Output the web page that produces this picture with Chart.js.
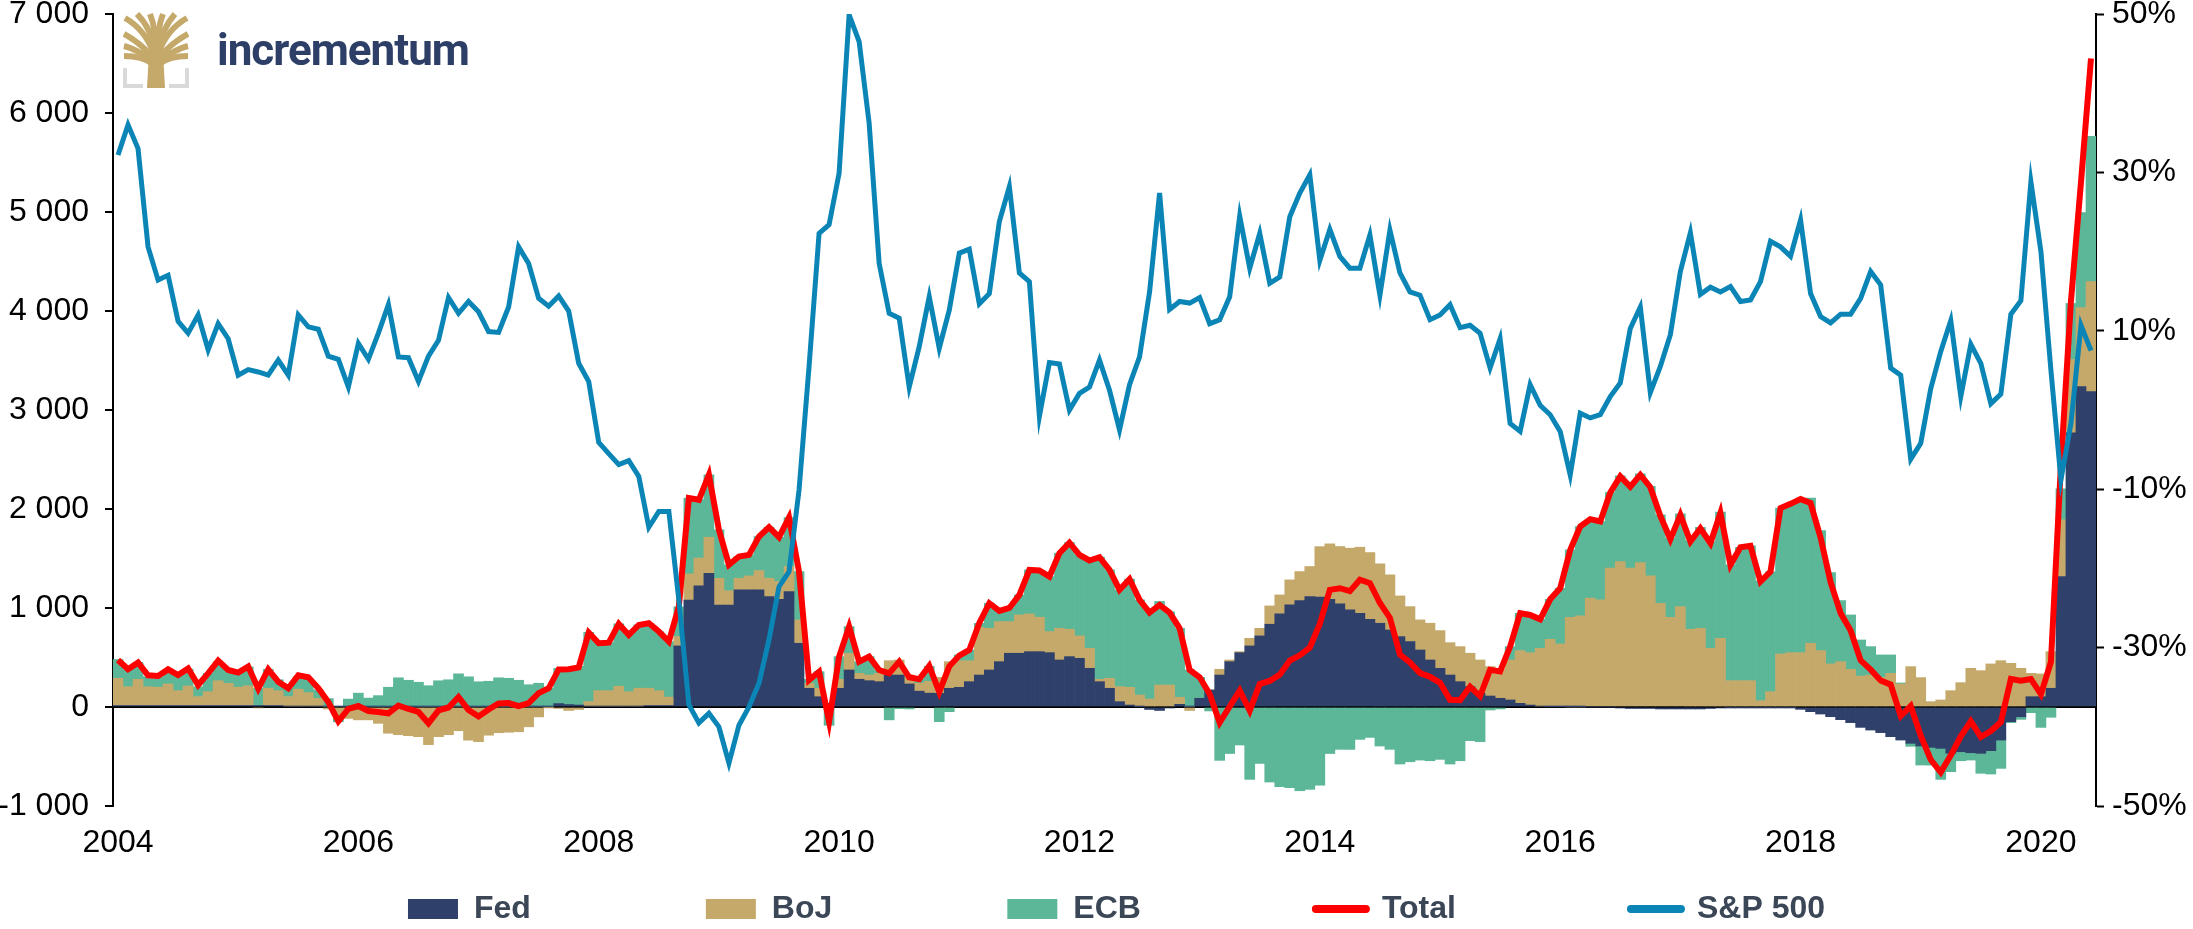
<!DOCTYPE html>
<html lang="en">
<head>
<meta charset="UTF-8">
<title>Central bank balance sheet changes vs S&amp;P 500</title>
<script src="https://cdn.jsdelivr.net/npm/chart.js"></script>
<style>
  body { margin: 0; background: #fff; }
  .wrap { position: relative; width: 2193px; height: 929px; }
  .logo-icon { position: absolute; left: 123px; top: 12px; }
  .logo-text {
    position: absolute; left: 217px; top: 28px;
    font-family: Roboto, "Liberation Sans", Arial, sans-serif;
    font-weight: 700; font-size: 44px; line-height: 44px;
    letter-spacing: -1px; color: #2e3f67;
  }
</style>
</head>
<body>
<div class="wrap">
  <canvas id="chart" width="2193" height="929"></canvas>
  <svg class="logo-icon" width="66" height="76" viewBox="0 0 66 76">
    <g stroke="#c4a96b" stroke-width="6" fill="none" stroke-linecap="butt">
      <path d="M30 46 C22 36 12 28 1 22"/>
      <path d="M30 52 C22 46 12 44 1 44"/>
      <path d="M30 49 C20 42 10 36 1 34"/>
      <path d="M31 42 C26 28 16 14 2 6"/>
      <path d="M32 40 C30 26 24 12 14 2"/>
      <path d="M33 40 C33 26 31 12 27 2"/>
      <path d="M33 40 C34 26 36 12 40 2"/>
      <path d="M34 40 C37 26 43 12 52 2"/>
      <path d="M35 42 C40 28 50 14 64 6"/>
      <path d="M36 46 C44 36 54 28 65 22"/>
      <path d="M36 49 C46 42 56 36 65 34"/>
      <path d="M36 52 C44 46 54 44 65 44"/>
    </g>
    <path d="M26 40 L40 40 L42 76 L24 76 Z" fill="#c4a96b"/>
    <g stroke="#d9d9d9" stroke-width="4" fill="none">
      <path d="M2 56 V74 H20"/>
      <path d="M64 56 V74 H46"/>
    </g>
  </svg>
  <div class="logo-text">incrementum</div>
</div>
<script>
// monthly data, Jan 2004 - Jun 2020, change in balance sheets (bn USD) and S&P 500 yoy (%)
const firstYear = 2004;
const monthCount = 198;
const months = Array.from({ length: monthCount }, (_, i) =>
  (firstYear + Math.floor(i / 12)) + '-' + String(i % 12 + 1).padStart(2, '0'));
const yearTicks = ['2004', '2006', '2008', '2010', '2012', '2014', '2016', '2018', '2020'];

const fed = [
  15, 15, 15, 15, 15, 15, 15, 15, 15, 15, 15, 15,
  15, 15, 15, 15, 15, 10, 10, 10, 10, 5, 5, 5,
  5, 5, 5, 5, 5, 5, 5, 5, 5, 5, 5, 5,
  5, 5, 5, 5, 5, 5, 5, 5, 35, 25, 20, 10,
  10, 10, 10, 10, 10, 15, 15, 15, 617, 1080, 1225, 1350,
  1030, 1030, 1183, 1183, 1183, 1115, 1088, 1166, 644, 189, 104, 37,
  189, 374, 280, 266, 256, 323, 323, 233, 160, 140, 138, 189,
  199, 256, 323, 374, 458, 543, 543, 559, 559, 549, 475, 509,
  492, 391, 256, 189, 54, 20, 3, -25, -35, -10, 27, 5,
  88, 172, 323, 458, 549, 617, 718, 836, 940, 1031, 1075, 1115,
  1110, 1088, 1041, 981, 947, 886, 846, 778, 711, 661, 576, 475,
  391, 323, 256, 206, 138, 111, 88, 71, 37, 20, 10, 3,
  3, 2, 2, 0, 0, 0, -10, -15, -15, -15, -20, -20,
  -20, -20, -20, -15, -10, -5, -5, -5, -5, -5, -5, -5,
  -24, -47, -71, -98, -128, -158, -206, -233, -259, -300, -334, -367,
  -394, -408, -418, -468, -452, -462, -468, -441, -334, -148, -98, 104,
  104, 189, 1318, 2770, 3236, 3185
];
const boj = [
  275, 190, 265, 190, 185, 218, 150, 197, 90, 140, 250, 225,
  185, 200, -10, 175, 150, 95, 170, 135, 78, -20, -120, -115,
  -130, -130, -165, -265, -280, -290, -300, -380, -300, -280, -240, -335,
  -350, -285, -260, -255, -250, -200, -100, -5, -15, -35, -25, 45,
  155, 155, 200, 145, 180, 175, 150, 85, 95, 265, 280, 365,
  270, 145, 118, 141, 195, 186, 179, 253, 236, 50, 85, 0,
  90, 169, 60, 57, 84, 145, 152, 90, 80, 120, 162, 269,
  269, 212, 482, 421, 405, 320, 387, 381, 348, 213, 320, 276,
  226, 202, 24, 101, 152, 179, 118, 80, 222, 222, 71, -35,
  0, 0, 58, 17, 10, 77, 77, 185, 192, 253, 293, 304,
  510, 560, 580, 623, 667, 674, 600, 557, 411, 353, 304, 371,
  381, 327, 354, 337, 337, 297, 293, 404, 533, 529, 583, 681,
  634, 905, 918, 1099, 1082, 1402, 1469, 1402, 1459, 1324, 1048, 907,
  1014, 785, 795, 593, 694, 266, 266, 266, 64, 155, 536, 549,
  549, 644, 570, 435, 458, 381, 313, 323, 300, 340, 233, 408,
  297, 54, 71, 165, 246, 391, 367, 435, 468, 441, 391, 236,
  230, 370, 573, 740, 798, 1112
];
const ecb = [
  190, 170, 170, 100, 100, 140, 160, 170, 100, 185, 190, 135,
  140, 190, 175, 190, 110, 85, 130, 135, 85, 80, -30, 75,
  135, 85, 110, 195, 290, 265, 245, 210, 260, 270, 330, 300,
  250, 255, 290, 285, 265, 220, 235, 185, 355, 365, 390, 700,
  480, 485, 630, 575, 640, 655, 595, 560, 300, 765, 590, 630,
  490, 260, 220, 213, 344, 515, 448, 495, 488, 40, 168, -185,
  230, 269, 118, 186, 34, -130, -17, -20, 40, 150, -148, -47,
  58, 108, 40, 253, 110, 140, 202, 445, 475, 556, 759, 876,
  819, 893, 1235, 1095, 977, 1092, 961, 895, 844, 740, 697, 370,
  212, -40, -539, -470, -384, -731, -570, -758, -805, -815, -846, -832,
  -790, -470, -428, -428, -327, -307, -394, -428, -576, -553, -536, -543,
  -529, -576, -543, -340, -350, -30, -20, 135, 377, 381, 293, 404,
  563, 680, 903, 798, 792, 765, 866, 832, 897, 904, 893, 798,
  937, 897, 1021, 1078, 1276, 1170, 1348, 1362, 1210, 1210, 1473, 1503,
  1551, 1466, 1213, 923, 617, 549, 364, 287, 226, 186, 10, -30,
  -192, -179, -313, -185, -91, -74, -202, -236, -286, -10, -27, -57,
  -206, -104, 313, 566, 961, 1467
];
const total = [
  475, 381, 448, 320, 313, 380, 323, 390, 222, 340, 468, 374,
  347, 408, 185, 380, 256, 189, 320, 300, 190, 50, -145, -20,
  10, -40, -50, -65, 15, -20, -50, -165, -35, -5, 100, -30,
  -95, -25, 35, 40, 10, 40, 140, 189, 380, 381, 400, 752,
  644, 650, 839, 728, 829, 846, 762, 661, 1014, 2110, 2093, 2346,
  1789, 1436, 1520, 1537, 1722, 1816, 1715, 1914, 1368, 273, 357, -148,
  509, 812, 458, 509, 374, 340, 458, 300, 280, 415, 152, 411,
  520, 576, 850, 1048, 970, 1000, 1132, 1385, 1380, 1318, 1554, 1660,
  1537, 1480, 1513, 1385, 1183, 1291, 1082, 954, 1031, 954, 795, 374,
  300, 132, -158, 5, 165, -37, 233, 263, 327, 469, 522, 600,
  840, 1183, 1200, 1170, 1285, 1250, 1050, 900, 530, 450, 342, 305,
  245, 72, 68, 204, 110, 376, 360, 610, 947, 930, 886, 1088,
  1200, 1587, 1823, 1897, 1874, 2167, 2330, 2225, 2345, 2220, 1930, 1695,
  1940, 1670, 1805, 1655, 1960, 1436, 1614, 1628, 1267, 1368, 2009, 2052,
  2100, 2060, 1710, 1260, 947, 772, 471, 377, 267, 226, -91, 10,
  -289, -533, -660, -488, -297, -145, -303, -242, -152, 283, 266, 283,
  128, 455, 2450, 4100, 5300, 6550
];
const spx = [
  32.2, 36.0, 33.0, 20.6, 16.4, 17.0, 11.2, 9.7, 12.0, 7.6, 10.9, 9.0,
  4.4, 5.1, 4.8, 4.4, 6.3, 4.4, 12.0, 10.5, 10.2, 6.8, 6.4, 2.9,
  8.4, 6.4, 9.7, 13.3, 6.7, 6.6, 3.6, 6.8, 8.8, 14.2, 12.2, 13.7,
  12.4, 9.9, 9.8, 13.0, 20.6, 18.5, 14.1, 13.1, 14.4, 12.5, 5.9, 3.6,
  -4.1, -5.5, -6.9, -6.4, -8.4, -14.8, -12.8, -12.8, -24.0, -37.2, -39.5, -38.3,
  -40.0, -44.6, -39.8, -37.5, -34.5, -29.0, -22.3, -20.4, -10.1, 5.5, 22.3, 23.4,
  29.9, 49.9, 46.5, 36.2, 18.5, 12.2, 11.6, 2.9, 8.0, 14.3, 7.8, 12.6,
  19.8, 20.3, 13.4, 14.7, 23.8, 28.2, 17.3, 16.2, -0.8, 6.0, 5.8, 0.0,
  2.1, 2.9, 6.3, 2.5, -2.5, 3.2, 6.7, 14.9, 27.4, 12.7, 13.7, 13.5,
  14.2, 10.9, 11.4, 14.3, 24.5, 17.9, 22.3, 16.0, 16.8, 24.4, 27.4, 29.7,
  18.9, 22.8, 19.4, 17.9, 17.9, 22.1, 14.5, 22.7, 17.3, 14.9, 14.5, 11.4,
  12.0, 13.3, 10.4, 10.7, 9.7, 5.3, 9.0, -1.7, -2.7, 3.2, 0.6, -0.6,
  -2.7, -8.2, -0.4, -1.0, -0.6, 1.7, 3.4, 10.3, 13.0, 2.2, 5.5, 9.5,
  17.5, 22.4, 14.6, 15.5, 14.9, 15.6, 13.7, 13.9, 16.2, 21.3, 20.6, 19.4,
  24.0, 14.7, 11.8, 11.0, 12.1, 12.1, 14.1, 17.5, 15.8, 5.3, 4.4, -6.2,
  -4.2, 2.7, 7.4, 11.3, 1.7, 8.3, 5.9, 0.8, 2.0, 12.1, 13.8, 28.8,
  20.0, 5.0, -8.8, -1.7, 10.7, 7.5
];

const axisFont = { family: '"Liberation Sans Narrow", "Arial Narrow", "Liberation Sans", Arial, sans-serif', size: 32 };

function spaced(v) {
  return String(v).replace(/\B(?=(\d{3})+(?!\d))/g, ' ');
}

// y axes: fixed widths and no extra room for the half label at the ends
function fixY(width) {
  return s => {
    s.width = width;
    s.paddingTop = 0;
    s.paddingBottom = 0;
  };
}

// legend gaps are wide, so push the legend row down into place after layout
const legendPlace = {
  id: 'legendPlace',
  afterLayout(chart) {
    const lg = chart.legend;
    const pad = lg.options.labels.padding;
    lg.top = 893 - pad;
    lg.left += 20;
    lg.right += 20;
  }
};

const ctx = document.getElementById('chart').getContext('2d');
new Chart(ctx, {
  data: {
    labels: months,
    datasets: [
      { type: 'bar', label: 'Fed', data: fed, backgroundColor: '#2f416b', stack: 'cb', order: 2,
        barPercentage: 1, categoryPercentage: 1, yAxisID: 'y' },
      { type: 'bar', label: 'BoJ', data: boj, backgroundColor: '#c4a96b', stack: 'cb', order: 2,
        barPercentage: 1, categoryPercentage: 1, yAxisID: 'y' },
      { type: 'bar', label: 'ECB', data: ecb, backgroundColor: '#5bb797', stack: 'cb', order: 2,
        barPercentage: 1, categoryPercentage: 1, yAxisID: 'y' },
      { type: 'line', label: 'Total', data: total, borderColor: '#ff0000', backgroundColor: '#ff0000',
        borderWidth: 6, pointRadius: 0, tension: 0, stack: 'total', order: 1, yAxisID: 'y' },
      { type: 'line', label: 'S&P 500', data: spx, borderColor: '#0a85b6', backgroundColor: '#0a85b6',
        borderWidth: 5, pointRadius: 0, tension: 0, order: 0, yAxisID: 'y1' }
    ]
  },
  options: {
    responsive: false,
    animation: false,
    layout: { padding: { top: 14, left: 0, right: 0, bottom: 0 } },
    scales: {
      x: {
        stacked: true,
        grid: { display: false, drawTicks: false },
        border: { display: false },
        ticks: {
          autoSkip: false, maxRotation: 0, padding: 18, color: '#000', font: axisFont,
          callback: (v, i) => (i % 24 === 0 ? yearTicks[i / 24] : null)
        },
        afterFit: s => { s.height = 73; }
      },
      y: {
        stacked: true,
        position: 'left',
        min: -1000, max: 7000,
        ticks: { stepSize: 1000, color: '#000', font: axisFont, padding: 16, callback: v => spaced(v) },
        grid: {
          color: c => (c.tick && c.tick.value === 0 ? '#000' : 'rgba(0,0,0,0)'),
          lineWidth: 2, tickColor: '#000', tickLength: 8, tickWidth: 2
        },
        border: { color: '#000', width: 2 },
        afterFit: fixY(113)
      },
      y1: {
        position: 'right',
        min: -50, max: 50,
        ticks: { stepSize: 20, color: '#000', font: axisFont, padding: 8, callback: v => v + '%' },
        grid: { drawOnChartArea: false, tickColor: '#000', tickLength: 8, tickWidth: 2 },
        border: { color: '#000', width: 2 },
        afterFit: fixY(97)
      }
    },
    plugins: {
      tooltip: { enabled: false },
      legend: {
        position: 'bottom',
        maxHeight: 50,
        labels: {
          padding: 175,
          usePointStyle: true,
          pointStyleWidth: 50,
          boxHeight: 20,
          color: '#3b4656',
          font: { family: '"Liberation Sans", Arial, sans-serif', size: 32, weight: 'bold' },
          sort: (a, b) => a.datasetIndex - b.datasetIndex,
          generateLabels(chart) {
            const items = Chart.defaults.plugins.legend.labels.generateLabels(chart);
            items.forEach(it => {
              const ds = chart.data.datasets[it.datasetIndex];
              if (ds.type === 'line') {
                it.pointStyle = 'line';
                it.lineWidth = 8;
                it.lineCap = 'round';
              } else {
                it.pointStyle = 'rect';
                it.lineWidth = 0;
              }
            });
            return items;
          }
        }
      }
    }
  },
  plugins: [legendPlace]
});
</script>
</body>
</html>
